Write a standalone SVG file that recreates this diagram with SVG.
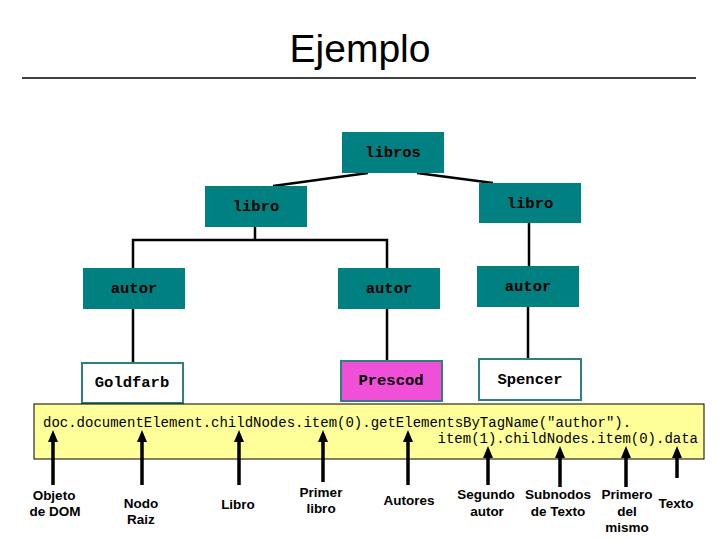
<svg xmlns="http://www.w3.org/2000/svg" width="720" height="540" viewBox="0 0 720 540">
<style>
.title{font-family:"Liberation Sans",Arial,sans-serif;font-size:39px;fill:#000}
.tn{fill:#008080}
.lf{fill:#fff;stroke:#2e8080;stroke-width:2}
.pk{fill:#f04fd8;stroke:#2e8080;stroke-width:2}
.nt{font-family:"Liberation Mono","Courier New",monospace;font-weight:bold;font-size:15.5px;fill:#000;text-anchor:middle}
.code{font-family:"Liberation Mono","Courier New",monospace;font-size:14px;fill:#000}
.lb{font-family:"Liberation Sans",Arial,sans-serif;font-weight:bold;font-size:13.5px;fill:#000;text-anchor:middle}
.c{stroke:#000;stroke-width:2.5;fill:none}
.ar{stroke:#000;stroke-width:3.5;fill:none;marker-end:url(#ah)}
</style>
<defs>
<marker id="ah" viewBox="0 0 12 10" refX="4" refY="5" markerWidth="12" markerHeight="10" markerUnits="userSpaceOnUse" orient="auto">
<path d="M0,0 L12,5 L0,10 Z" fill="#000"/>
</marker>
</defs>
<rect width="720" height="540" fill="#fff"/>
<text class="title" x="360" y="62" text-anchor="middle">Ejemplo</text>
<line x1="22" y1="78" x2="696" y2="78" stroke="#000" stroke-width="1.5"/>

<g id="connectors">
<line class="c" x1="273" y1="186" x2="368" y2="173"/>
<line class="c" x1="417" y1="173" x2="493" y2="183"/>
<polyline class="c" points="255,227 255,240"/>
<polyline class="c" points="133,268 133,240 387,240 387,268"/>
<line class="c" x1="529" y1="223" x2="529" y2="266"/>
<line class="c" x1="133" y1="309" x2="133" y2="363"/>
<line class="c" x1="387" y1="309" x2="387" y2="361"/>
<line class="c" x1="528" y1="307" x2="528" y2="359"/>
</g>

<g id="libros"><rect class="tn" x="342" y="132" width="102" height="41"/><text class="nt" x="393" y="157">libros</text></g>
<g id="libro1"><rect class="tn" x="205" y="186" width="102" height="41"/><text class="nt" x="256" y="211">libro</text></g>
<g id="libro2"><rect class="tn" x="479" y="183" width="102" height="40"/><text class="nt" x="530" y="208">libro</text></g>
<g id="autor1"><rect class="tn" x="83" y="268" width="102" height="41"/><text class="nt" x="134" y="293">autor</text></g>
<g id="autor2"><rect class="tn" x="338" y="268" width="102" height="41"/><text class="nt" x="389" y="293">autor</text></g>
<g id="autor3"><rect class="tn" x="477" y="266" width="102" height="41"/><text class="nt" x="528" y="291">autor</text></g>
<g id="goldfarb"><rect class="lf" x="82" y="363" width="101" height="40"/><text class="nt" x="132" y="387">Goldfarb</text></g>
<g id="prescod"><rect class="pk" x="341" y="361" width="101" height="40"/><text class="nt" x="391" y="385">Prescod</text></g>
<g id="spencer"><rect class="lf" x="479" y="359" width="102" height="41"/><text class="nt" x="530" y="384">Spencer</text></g>

<g id="code">
<rect x="34" y="404" width="670" height="55" fill="#ffff99" stroke="#000" stroke-width="1"/>
<text class="code" x="43" y="427">doc.documentElement.childNodes.item(0).getElementsByTagName("author").</text>
<text class="code" x="698" y="443" text-anchor="end">item(1).childNodes.item(0).data</text>
</g>

<g id="arrows">
<line class="ar" x1="53" y1="485" x2="53" y2="438"/>
<line class="ar" x1="142" y1="485" x2="142" y2="438"/>
<line class="ar" x1="239" y1="485" x2="239" y2="438"/>
<line class="ar" x1="323" y1="482" x2="323" y2="438"/>
<line class="ar" x1="408" y1="485" x2="408" y2="438"/>
<line class="ar" x1="488" y1="485" x2="488" y2="454"/>
<line class="ar" x1="560" y1="487" x2="560" y2="454"/>
<line class="ar" x1="626" y1="487" x2="626" y2="454"/>
<line class="ar" x1="677" y1="478" x2="677" y2="454"/>
</g>

<g id="labels">
<text class="lb" x="54" y="500">Objeto</text>
<text class="lb" x="55" y="516">de DOM</text>
<text class="lb" x="141" y="508">Nodo</text>
<text class="lb" x="141" y="524">Raiz</text>
<text class="lb" x="238" y="509">Libro</text>
<text class="lb" x="321" y="497">Primer</text>
<text class="lb" x="321" y="513">libro</text>
<text class="lb" x="409" y="505">Autores</text>
<text class="lb" x="486" y="499">Segundo</text>
<text class="lb" x="487" y="516">autor</text>
<text class="lb" x="558" y="499">Subnodos</text>
<text class="lb" x="558" y="516">de Texto</text>
<text class="lb" x="627" y="499">Primero</text>
<text class="lb" x="627" y="516">del</text>
<text class="lb" x="627" y="532">mismo</text>
<text class="lb" x="676" y="508">Texto</text>
</g>
</svg>
